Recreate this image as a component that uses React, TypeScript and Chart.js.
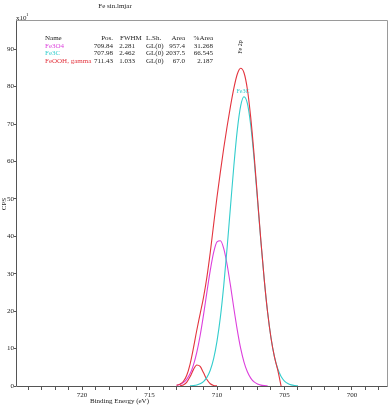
import React, { useEffect, useRef } from 'react';
import { Chart, registerables } from 'chart.js';

Chart.register(...registerables);

// Binding energies (eV) of the sampled curve points
const energies = [
  713.0, 712.75, 712.5, 712.25, 712.0, 711.75, 711.5, 711.25, 711.0, 710.75,
  710.5, 710.25, 710.0, 709.75, 709.5, 709.25, 709.0, 708.75, 708.5, 708.25,
  708.0, 707.75, 707.5, 707.25, 707.0, 706.75, 706.5, 706.25, 706.0, 705.75,
  705.5, 705.25, 705.0, 704.75, 704.5, 704.25, 704.0,
];

// CPS (x10^1)
const envelope = [
  0.2, 0.5, 1.2, 2.8, 5.8, 10.1, 14.9, 19.3, 23.7, 29.1,
  35.7, 43.2, 50.5, 57.2, 63.6, 69.4, 74.8, 79.6, 83.3, 84.9,
  83.7, 79.3, 71.7, 61.7, 50.3, 38.9, 28.5, 19.7, 12.9, 7.9,
  4.3, 0, null, null, null, null, null,
];
const fe3o4 = [
  0.19, 0.43, 0.9, 1.77, 3.25, 5.6, 9.0, 13.5, 19.0, 25.1,
  30.9, 35.7, 38.5, 38.8, 36.7, 32.4, 26.8, 20.7, 15.0, 10.1,
  6.4, 3.8, 2.1, 1.09, 0.53, 0.24, 0.1, 0.04, null, null,
  null, null, null, null, null, null, null,
];
const fe3c = [
  null, null, null, null, 0.05, 0.12, 0.27, 0.58, 1.19, 2.3,
  4.2, 7.3, 12.0, 18.4, 26.9, 37.0, 48.0, 58.9, 68.3, 74.8,
  77.3, 75.5, 69.6, 60.6, 49.8, 38.7, 28.4, 19.7, 12.9, 7.9,
  4.6, 2.55, 1.33, 0.65, 0.3, 0.13, 0.05,
];
const feooh = [
  null, 0.06, 0.29, 0.99, 2.45, 4.37, 5.63, 5.24, 3.53, 1.72,
  0.6, 0.15, 0.03, null, null, null, null, null, null, null,
  null, null, null, null, null, null, null, null, null, null,
  null, null, null, null, null, null, null,
];

// Component table
const compNames = ['Fe3O4', 'Fe3C', 'FeOOH, gamma'];
const compPos = ['709.84', '707.98', '711.43'];
const compFwhm = ['2.281', '2.462', '1.033'];
const compShape = ['GL(0)', 'GL(0)', 'GL(0)'];
const compArea = ['957.4', '2037.5', '67.0'];
const compPct = ['31.268', '66.545', '2.187'];

const C_RED = '#e3343e';
const C_MAG = '#dc3fdc';
const C_CYAN = '#33cdcd';
const compColors = [C_MAG, C_CYAN, C_RED];

const FONT = '"Liberation Serif", "Times New Roman", serif';

function pts(ys: (number | null)[]) {
  return energies.map((x, i) => ({ x, y: ys[i] }));
}

const textPlugin = {
  id: 'xpsText',
  afterDraw(chart: any) {
    const { ctx, chartArea: a } = chart;
    ctx.save();
    // frame
    ctx.lineWidth = 1;
    ctx.strokeStyle = '#9a9a9a';
    ctx.beginPath();
    ctx.moveTo(Math.round(a.left) + 0.5, Math.round(a.top) + 0.5);
    ctx.lineTo(Math.round(a.right) + 0.5, Math.round(a.top) + 0.5);
    ctx.lineTo(Math.round(a.right) + 0.5, Math.round(a.bottom) + 0.5);
    ctx.stroke();
    ctx.strokeStyle = '#555';
    ctx.beginPath();
    ctx.moveTo(Math.round(a.left) + 0.5, Math.round(a.top) + 0.5);
    ctx.lineTo(Math.round(a.left) + 0.5, Math.round(a.bottom) + 0.5);
    ctx.lineTo(Math.round(a.right) + 0.5, Math.round(a.bottom) + 0.5);
    ctx.stroke();

    ctx.fillStyle = '#222';
    ctx.textBaseline = 'middle';
    ctx.font = `7px ${FONT}`;
    // title
    ctx.textAlign = 'center';
    ctx.fillText('Fe sin.lmjar', 115, 6);
    // x10^1
    ctx.textAlign = 'left';
    ctx.fillText('x10', 16, 18);
    ctx.font = `5px ${FONT}`;
    ctx.fillText('1', 26, 15);
    ctx.font = `7px ${FONT}`;

    // table
    const rows = [38.3, 45.8, 53.5, 61.5];
    ctx.textAlign = 'left';
    ctx.fillText('Name', 45, rows[0]);
    ctx.textAlign = 'right';
    ctx.fillText('Pos.', 113, rows[0]);
    ctx.textAlign = 'left';
    ctx.fillText('FWHM', 120, rows[0]);
    ctx.fillText('L.Sh.', 146, rows[0]);
    ctx.textAlign = 'right';
    ctx.fillText('Area', 185, rows[0]);
    ctx.fillText('%Area', 213, rows[0]);
    compNames.forEach((n, i) => {
      const y = rows[i + 1];
      ctx.fillStyle = compColors[i];
      ctx.textAlign = 'left';
      ctx.fillText(n, 45, y);
      ctx.fillStyle = '#222';
      ctx.textAlign = 'right';
      ctx.fillText(compPos[i], 113, y);
      ctx.fillText(compFwhm[i], 135, y);
      ctx.textAlign = 'left';
      ctx.fillText(compShape[i], 146, y);
      ctx.textAlign = 'right';
      ctx.fillText(compArea[i], 185, y);
      ctx.fillText(compPct[i], 213, y);
    });

    // axis titles
    ctx.textAlign = 'left';
    ctx.fillText('Binding Energy (eV)', 90, 401);
    ctx.save();
    ctx.translate(4.5, 204);
    ctx.rotate(-Math.PI / 2);
    ctx.textAlign = 'center';
    ctx.fillText('CPS', 0, 0);
    ctx.restore();

    // peak annotations
    ctx.save();
    ctx.translate(240.5, 47);
    ctx.rotate(-Math.PI / 2);
    ctx.textAlign = 'center';
    ctx.font = `6px ${FONT}`;
    ctx.fillText('Fe 2p', 0, 0);
    ctx.restore();
    ctx.fillStyle = C_CYAN;
    ctx.textAlign = 'center';
    ctx.font = `6px ${FONT}`;
    ctx.fillText('Fe3C', 243, 91.5);
    ctx.restore();
  },
};

export default function App() {
  const ref = useRef<HTMLCanvasElement>(null);
  useEffect(() => {
    const common = {
      pointRadius: 0,
      borderWidth: 1.1,
      fill: false,
      cubicInterpolationMode: 'monotone' as const,
      spanGaps: false,
    };
    const chart = new Chart(ref.current!, {
      type: 'line',
      data: {
        datasets: [
          { label: 'Envelope', data: pts(envelope), borderColor: C_RED, ...common },
          { label: 'Fe3C', data: pts(fe3c), borderColor: C_CYAN, ...common },
          { label: 'Fe3O4', data: pts(fe3o4), borderColor: C_MAG, ...common },
          { label: 'FeOOH, gamma', data: pts(feooh), borderColor: C_RED, ...common },
        ],
      },
      options: {
        animation: false,
        responsive: false,
        devicePixelRatio: 1,
        layout: { padding: { top: 20, right: 3, left: 0, bottom: 0 } },
        plugins: { legend: { display: false }, tooltip: { enabled: false }, title: { display: false } },
        scales: {
          x: {
            type: 'linear',
            reverse: true,
            min: 697.4,
            max: 724.9,
            border: { display: false },
            grid: { drawOnChartArea: false, drawTicks: true, tickLength: 4, color: '#555' },
            ticks: {
              stepSize: 1,
              autoSkip: false,
              maxRotation: 0,
              minRotation: 0,
              includeBounds: false,
              padding: 1,
              color: '#222',
              font: { family: FONT, size: 7 },
              callback: (v: any) => (Number(v) % 5 === 0 ? String(v) : ''),
            },
            afterFit: (s: any) => {
              s.height = 19;
            },
          },
          y: {
            type: 'linear',
            min: 0,
            max: 97.8,
            border: { display: false },
            grid: { drawOnChartArea: false, drawTicks: true, tickLength: 2, color: '#555' },
            ticks: {
              stepSize: 10,
              includeBounds: false,
              padding: 0,
              color: '#222',
              font: { family: FONT, size: 7 },
            },
            afterFit: (s: any) => {
              s.width = 16;
            },
          },
        },
      },
      plugins: [textPlugin],
    });
    return () => chart.destroy();
  }, []);
  return (
    <div style={{ position: 'fixed', left: 0, top: 0, width: 390, height: 405, background: '#fff' }}>
      <canvas ref={ref} width={390} height={405} style={{ display: 'block', width: 390, height: 405 }} />
    </div>
  );
}
